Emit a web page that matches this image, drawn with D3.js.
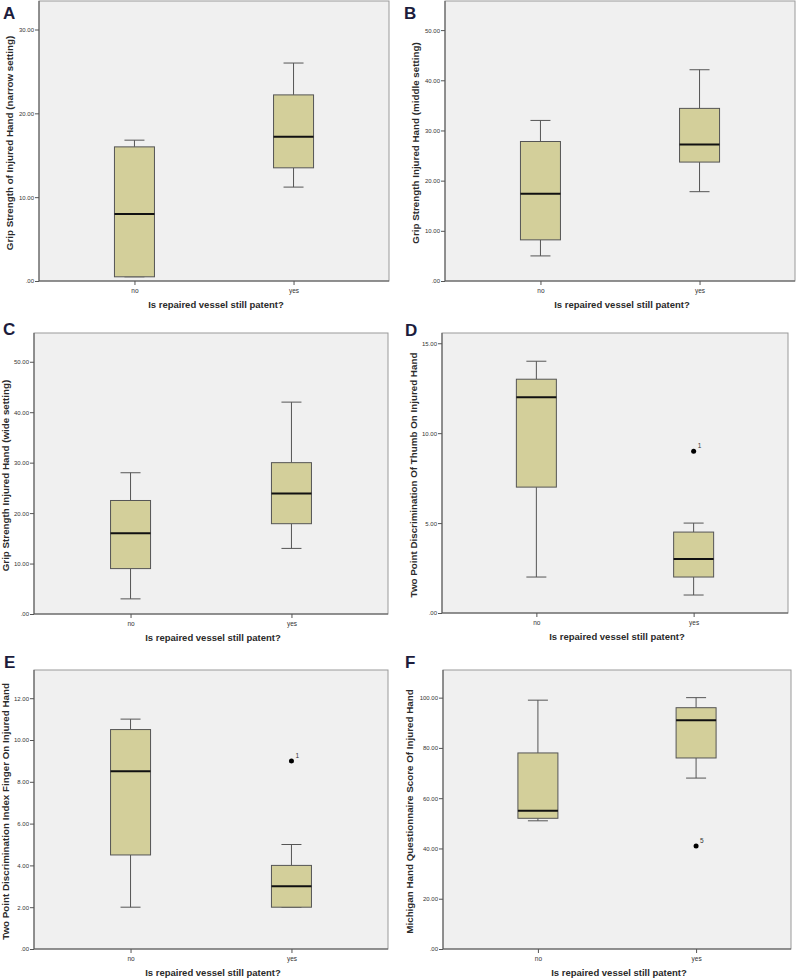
<!DOCTYPE html>
<html>
<head>
<meta charset="utf-8">
<script src="https://cdn.jsdelivr.net/npm/d3@7"></script>
<style>
  body { margin: 0; background: #fff; }
  svg { display: block; font-family: "Liberation Sans", Arial, sans-serif; }
</style>
</head>
<body>
<div id="chart"></div>
<script>
// data
const panelLetters = ["A", "B", "C", "D", "E", "F"];
const groups = ["no", "yes"];
const xTitle = "Is repaired vessel still patent?";
const yTitles = [
  "Grip Strength of Injured Hand (narrow setting)",
  "Grip Strength Injured Hand (middle setting)",
  "Grip Strength Injured Hand (wide setting)",
  "Two Point Discrimination Of Thumb On Injured Hand",
  "Two Point Discrimination Index Finger On Injured Hand",
  "Michigan Hand Questionnaire  Score Of Injured Hand"
];
const yMax = [33.4, 55.8, 55.7, 15.57, 13.35, 111];
const yTickValues = [
  [0, 10, 20, 30],
  [0, 10, 20, 30, 40, 50],
  [0, 10, 20, 30, 40, 50],
  [0, 5, 10, 15],
  [0, 2, 4, 6, 8, 10, 12],
  [0, 20, 40, 60, 80, 100]
];
// [lower whisker, Q1, median, Q3, upper whisker]
const boxNo = [
  [0.5, 0.5, 8, 16, 16.8],
  [5, 8.2, 17.4, 27.8, 32],
  [3, 9, 16, 22.5, 28],
  [2, 7, 12, 13, 14],
  [2, 4.5, 8.5, 10.5, 11],
  [51, 52, 55, 78, 99]
];
const boxYes = [
  [11.2, 13.5, 17.2, 22.2, 26],
  [17.8, 23.7, 27.2, 34.4, 42.1],
  [13, 17.9, 23.9, 30, 42],
  [1, 2, 3, 4.5, 5],
  [2, 2, 3, 4, 5],
  [68, 76, 91, 96, 100]
];
const outliers = [
  [],
  [],
  [],
  [{group: "yes", value: 9, label: "1"}],
  [{group: "yes", value: 9, label: "1"}],
  [{group: "yes", value: 41, label: "5"}]
];

// layout of each panel frame (left, right, top, bottom)
const frames = [
  {x0: 39, x1: 389, y0: 1, y1: 281, lx: 3, ly: 19, tx: 9},
  {x0: 445, x1: 795, y0: 1, y1: 281, lx: 404, ly: 19, tx: 415},
  {x0: 34, x1: 388, y0: 333, y1: 614, lx: 3, ly: 335, tx: 5},
  {x0: 442, x1: 788, y0: 333, y1: 613, lx: 405, ly: 336, tx: 413},
  {x0: 34, x1: 388, y0: 670, y1: 949, lx: 4, ly: 668, tx: 5},
  {x0: 443, x1: 791, y0: 670, y1: 949, lx: 405, ly: 668, tx: 409}
];

const boxFill = "#d3cf9a";
const lineCol = "#555";
const fmt = v => v === 0 ? ".00" : d3.format(".2f")(v);

const svg = d3.select("#chart").append("svg")
  .attr("width", 800)
  .attr("height", 980);

panelLetters.forEach(function(letter, i) {
  const f = frames[i];
  const g = svg.append("g");

  const x = d3.scalePoint().domain(groups).range([f.x0, f.x1]).padding(0.6);
  const y = d3.scaleLinear().domain([0, yMax[i]]).range([f.y1, f.y0]);

  // plot background
  g.append("rect")
    .attr("x", f.x0).attr("y", f.y0)
    .attr("width", f.x1 - f.x0).attr("height", f.y1 - f.y0)
    .attr("fill", "#f0f0f0")
    .attr("stroke", "#9a9a9a")
    .attr("stroke-width", 1);

  // axes
  const yAxis = d3.axisLeft(y).tickValues(yTickValues[i]).tickFormat(fmt).tickSize(4).tickPadding(1);
  const ya = g.append("g").attr("transform", `translate(${f.x0},0)`).call(yAxis);
  ya.select(".domain").attr("stroke", lineCol).attr("d", `M0,${f.y1}V${f.y0}`);
  ya.selectAll(".tick line").attr("stroke", lineCol);
  ya.selectAll("text").attr("font-size", 6).attr("fill", "#333");

  const xAxis = d3.axisBottom(x).tickSize(4).tickPadding(3);
  const xa = g.append("g").attr("transform", `translate(0,${f.y1})`).call(xAxis);
  xa.select(".domain").attr("stroke", lineCol).attr("d", `M${f.x0},0H${f.x1}`);
  xa.selectAll(".tick line").attr("stroke", lineCol);
  xa.selectAll("text").attr("font-size", 6.5).attr("fill", "#333");

  // boxes
  const stats = [boxNo[i], boxYes[i]];
  const bw = 40, cw = 20;
  stats.forEach(function(s, j) {
    const cx = x(groups[j]);
    const bg = g.append("g");
    bg.append("line")
      .attr("x1", cx).attr("x2", cx)
      .attr("y1", y(s[4])).attr("y2", y(s[3]))
      .attr("stroke", lineCol);
    bg.append("line")
      .attr("x1", cx).attr("x2", cx)
      .attr("y1", y(s[1])).attr("y2", y(s[0]))
      .attr("stroke", lineCol);
    [s[0], s[4]].forEach(function(v) {
      bg.append("line")
        .attr("x1", cx - cw / 2).attr("x2", cx + cw / 2)
        .attr("y1", y(v)).attr("y2", y(v))
        .attr("stroke", lineCol);
    });
    bg.append("rect")
      .attr("x", cx - bw / 2).attr("width", bw)
      .attr("y", y(s[3])).attr("height", y(s[1]) - y(s[3]))
      .attr("fill", boxFill)
      .attr("stroke", lineCol);
    bg.append("line")
      .attr("x1", cx - bw / 2).attr("x2", cx + bw / 2)
      .attr("y1", y(s[2])).attr("y2", y(s[2]))
      .attr("stroke", "#111")
      .attr("stroke-width", 2);
  });

  // outliers
  outliers[i].forEach(function(o) {
    g.append("circle")
      .attr("cx", x(o.group)).attr("cy", y(o.value))
      .attr("r", 2.5).attr("fill", "#000");
    g.append("text")
      .attr("x", x(o.group) + 4).attr("y", y(o.value) - 3)
      .attr("font-size", 6.5).attr("fill", "#333")
      .text(o.label);
  });

  // titles
  g.append("text")
    .attr("x", (f.x0 + f.x1) / 2 + 2)
    .attr("y", f.y1 + 27)
    .attr("text-anchor", "middle")
    .attr("font-size", 9.5)
    .attr("font-weight", "bold")
    .attr("fill", "#2a2a2a")
    .text(xTitle);

  g.append("text")
    .attr("transform", `translate(${f.tx + 3.5},${(f.y0 + f.y1) / 2 + 2}) rotate(-90)`)
    .attr("text-anchor", "middle")
    .attr("font-size", 9.8)
    .attr("font-weight", "bold")
    .attr("fill", "#2a2a2a")
    .text(yTitles[i]);

  g.append("text")
    .attr("x", f.lx).attr("y", f.ly)
    .attr("font-size", 17)
    .attr("font-weight", "bold")
    .attr("fill", "#1c1c3c")
    .text(letter);
});
</script>
</body>
</html>
